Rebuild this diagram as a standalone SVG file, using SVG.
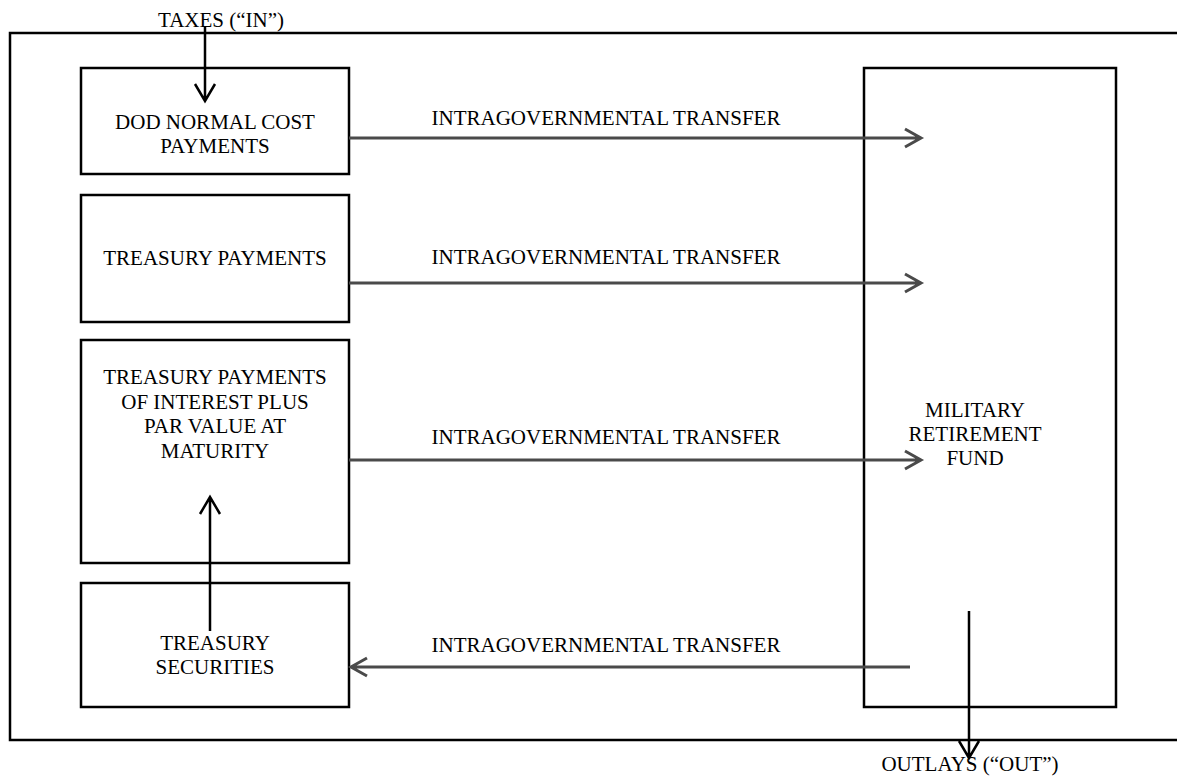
<svg xmlns="http://www.w3.org/2000/svg" width="1177" height="777" viewBox="0 0 1177 777">
<style>
text{font-family:"Liberation Serif","Times New Roman",serif;font-size:21px;fill:#000;text-anchor:middle}
.box{fill:#fff;stroke:#000;stroke-width:2.5}
.frame{fill:none;stroke:#000;stroke-width:2.5}
.flow{stroke:#4a4a4a;stroke-width:3;fill:none}
.v{stroke:#000;stroke-width:2.5;fill:none}
</style>
<rect width="1177" height="777" fill="#fff"/>
<g id="frame">
<path class="frame" d="M1177,33 H10 V740 H1177"/>
</g>
<g id="dod"><rect class="box" x="81" y="68" width="268" height="106"/><text x="215" y="129">DOD NORMAL COST</text><text x="215" y="153">PAYMENTS</text></g>
<g id="treasury"><rect class="box" x="81" y="195" width="268" height="127"/><text x="215" y="265">TREASURY PAYMENTS</text></g>
<g id="interest"><rect class="box" x="81" y="340" width="268" height="223"/><text x="215" y="384">TREASURY PAYMENTS</text><text x="215" y="409">OF INTEREST PLUS</text><text x="215" y="433">PAR VALUE AT</text><text x="215" y="458">MATURITY</text></g>
<g id="securities"><rect class="box" x="81" y="583" width="268" height="124"/><text x="215" y="650">TREASURY</text><text x="215" y="674">SECURITIES</text></g>
<g id="fund"><rect class="box" x="864" y="68" width="252" height="639"/><text x="975" y="417">MILITARY</text><text x="975" y="441">RETIREMENT</text><text x="975" y="465">FUND</text></g>
<g id="connectors">
<path class="flow" d="M349,138 H920 M905,129 L921,138 L905,147"/>
<text x="606" y="125">INTRAGOVERNMENTAL TRANSFER</text>
<path class="flow" d="M349,283 H920 M905,274 L921,283 L905,292"/>
<text x="606" y="264">INTRAGOVERNMENTAL TRANSFER</text>
<path class="flow" d="M349,460 H920 M905,451 L921,460 L905,469"/>
<text x="606" y="444">INTRAGOVERNMENTAL TRANSFER</text>
<path class="flow" d="M910,667 H351 M367,658 L351,667 L367,676"/>
<text x="606" y="652">INTRAGOVERNMENTAL TRANSFER</text>
<path class="v" d="M205,27 V101 M195,84 L205,101 L215,84"/>
<path class="v" d="M210,631 V497 M200,514 L210,497 L220,514"/>
<path class="v" d="M969,611 V758 M959,741 L969,758 L979,741"/>
</g>
<text x="221" y="27">TAXES (“IN”)</text>
<text x="970" y="771">OUTLAYS (“OUT”)</text>
</svg>
